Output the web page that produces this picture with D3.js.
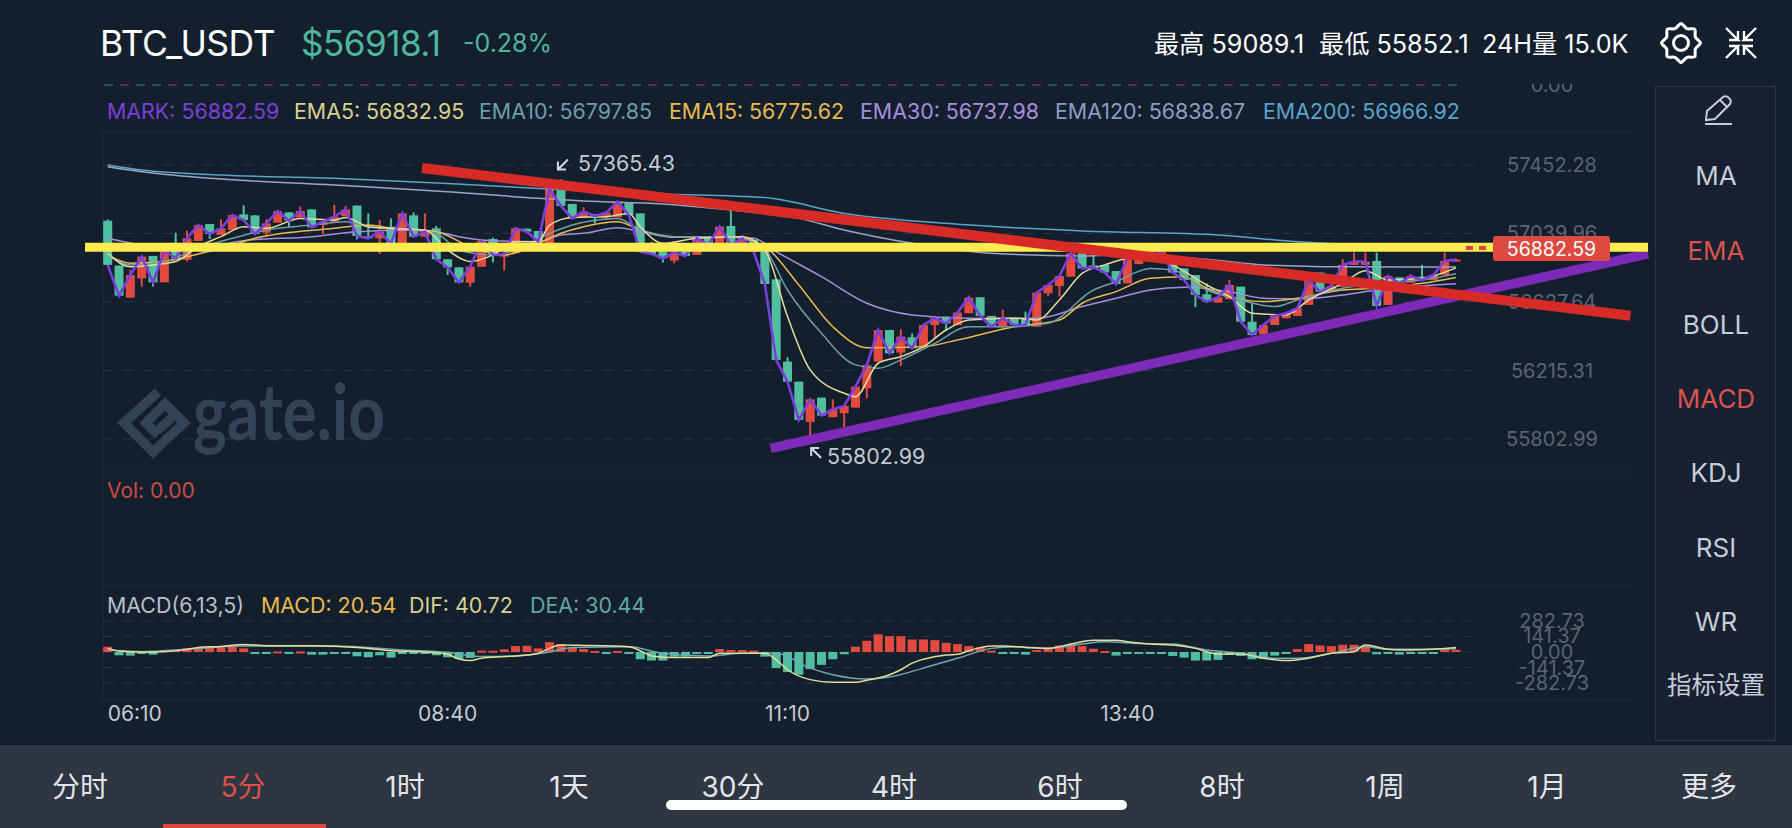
<!DOCTYPE html>
<html><head><meta charset="utf-8">
<script src="https://cdnjs.cloudflare.com/ajax/libs/d3/7.8.5/d3.min.js"></script>
<style>html,body{margin:0;padding:0;background:#141f2e;overflow:hidden}svg{display:block}text{font-family:Inter,"Noto Sans CJK SC",sans-serif}</style>
</head><body><svg id="c" width="1792" height="828"></svg>
<script>
const opens=[57117,56847,56654,56770,56905,56746,56971,56881,56995,57097,57031,57061,57155,57149,57045,57105,57167,57137,57185,57091,57111,57145,57208,57021,57011,57081,56971,57149,57021,57071,56885,56836,56744,56840,57007,56901,56921,57069,57055,56971,57306,57218,57137,57155,57137,57137,57226,57161,56971,56931,56877,56931,56911,57017,56981,57085,56977,57001,56931,56764,56269,56148,55906,56052,55934,55958,55992,56108,56269,56459,56323,56415,56359,56489,56540,56489,56560,56656,56544,56475,56530,56530,56479,56680,56724,56780,56921,56847,56851,56814,56740,56856,56871,56865,56861,56830,56790,56674,56624,56644,56720,56509,56433,56489,56530,56544,56610,56805,56690,56720,56851,56851,56875,56610,56776,56744,56780,56760,56790,56871];
const highs=[57125,56847,56821,56901,56905,56937,57045,57057,57091,57097,57125,57151,57210,57149,57125,57181,57167,57202,57185,57111,57212,57206,57208,57161,57121,57131,57161,57167,57161,57085,56885,56836,56840,56995,57015,56917,57071,57069,57055,57306,57365.43,57218,57198,57155,57171,57232,57226,57161,56991,56931,56925,56931,57011,57017,57081,57181,57031,57001,56931,56764,56295,56148,56042,56052,56042,56002,56118,56249,56459,56459,56463,56439,56489,56544,56540,56564,56666,56656,56544,56580,56530,56570,56684,56730,56784,56921,56921,56921,56851,56814,56891,56941,56941,56931,56861,56830,56790,56740,56656,56760,56720,56620,56489,56544,56560,56590,56760,56805,56724,56885,56925,56925,56925,56784,56776,56796,56851,56790,56925,56890];
const lows=[56851,56666,56654,56720,56720,56746,56891,56871,56995,57007,57031,57061,57121,57037,57029,57105,57081,57137,57077,57037,57111,57145,57005,57011,56917,56981,56971,57021,57021,56885,56790,56746,56720,56840,56867,56817,56921,57051,56991,56971,57206,57131,57137,57101,57121,57137,57151,56931,56917,56865,56861,56905,56911,56971,56981,56971,56977,56931,56736,56279,56148,55918,55802.99,55944,55934,55874,55992,56048,56269,56319,56243,56349,56359,56409,56455,56489,56560,56544,56479,56475,56489,56489,56479,56664,56660,56780,56830,56836,56805,56736,56740,56856,56871,56865,56805,56760,56596,56624,56624,56644,56509,56429,56433,56489,56530,56544,56610,56690,56690,56720,56851,56851,56604,56610,56740,56744,56760,56760,56790,56871];
const closes=[56851,56666,56790,56901,56746,56937,56891,57011,57091,57037,57071,57151,57121,57037,57101,57175,57117,57175,57077,57111,57141,57185,57025,57011,57051,56981,57161,57021,57051,56885,56836,56746,56840,56995,56911,56917,57071,57051,56991,57306,57206,57131,57171,57145,57165,57232,57151,56931,56917,56891,56925,56905,57011,56971,57081,56971,57011,56931,56736,56279,56148,55918,56042,55944,55982,56002,56118,56249,56459,56319,56419,56349,56489,56530,56499,56564,56654,56544,56479,56530,56489,56489,56684,56730,56784,56921,56830,56836,56805,56736,56891,56941,56941,56931,56805,56760,56670,56630,56656,56730,56509,56429,56489,56544,56560,56590,56760,56690,56724,56851,56871,56871,56604,56784,56740,56784,56760,56790,56875,56882.59];

const ema5Idx=[0,2,4,6,8,10,12,14,17,20,21,23,25,28,30,32,34,36,38,39,41,44,46,47,49,52,56,58,60,62,65,66,68,70,72,74,76,80,82,84,86,88,92,94,97,99,101,104,106,109,111,113,116,119];
const ema5=[56921,56840,56851,56871,56961,57021,57081,57071,57131,57121,57137,57081,57071,57061,56941,56871,56911,56991,56991,57091,57137,57141,57161,57081,56981,57011,57021,56941,56540,56219,56078,56058,56259,56299,56359,56459,56520,56530,56520,56640,56800,56851,56911,56851,56730,56660,56560,56550,56640,56740,56816,56760,56770,56832.95];
const ema10Idx=[0,2,5,8,11,14,18,21,23,27,29,31,34,37,39,41,45,47,50,55,58,60,63,66,68,70,73,76,80,83,87,89,92,94,97,100,103,105,109,112,116,119];
const ema10=[56911,56851,56871,56951,57011,57061,57091,57111,57081,57061,57041,56941,56911,56971,57041,57091,57131,57061,57021,57021,56941,56700,56439,56249,56229,56279,56379,56479,56479,56499,56700,56750,56830,56820,56700,56640,56600,56640,56710,56740,56760,56797.85];
const ema15Idx=[0,2,5,8,11,13,20,23,25,29,32,35,38,40,42,45,47,50,55,58,61,64,67,72,75,80,84,86,89,92,95,97,99,102,105,109,112,116,119];
const ema15=[56911,56861,56871,56917,56971,57011,57071,57091,57071,57051,56961,56911,56981,57041,57081,57111,57061,57021,57021,56961,56730,56479,56353,56359,56399,56479,56519,56620,56690,56770,56780,56710,56660,56630,56650,56700,56710,56740,56775.62];
const ema30Idx=[0,3,5,8,12,18,22,27,29,31,34,38,40,42,45,47,50,54,57,59,63,67,71,76,82,86,89,92,95,99,102,105,109,112,119];
const ema30=[57011,56971,56957,56957,56997,57021,57051,57061,57051,57021,56997,56991,57031,57041,57075,57051,57017,57017,57011,56931,56780,56620,56550,56530,56530,56600,56650,56700,56716,56690,56650,56646,56670,56700,56737.98];
const ema120Idx=[0,3,10,20,30,38,42,49,55,61,65,71,78,86,89,97,102,109,119];
const ema120=[57442,57412,57368,57332,57292,57252,57236,57218,57181,57131,57061,56981,56921,56905,56911,56885,56851,56840,56838.67];
const ema200Idx=[0,3,10,20,30,38,42,49,58,65,74,86,98,105,112,119];
const ema200=[57452,57422,57392,57372,57341,57311,57296,57278,57256,57161,57101,57055,57031,56991,56971,56966.92];

const macdBars=[48,-30,-33,-6,-24,18,18,36,42,42,42,48,33,-5,-5,5,-5,5,-24,-24,-18,-6,-39,-48,-30,-51,-3,-18,-4,-30,-48,-63,-54,12,12,24,54,57,33,90,72,42,27,9,-5,9,-5,-66,-78,-78,-42,-42,-6,-6,27,18,18,12,-42,-147,-183,-207,-156,-117,-66,-21,48,102,162,144,144,114,114,108,84,72,54,42,12,-6,-6,-24,18,42,60,72,54,30,9,-33,-18,-6,-6,-9,-36,-51,-78,-78,-72,-27,-36,-66,-63,-33,-6,27,72,60,54,66,66,60,-21,-6,-24,-9,-9,-6,24,20.54];
const difIdx=[0,1,3,5,7,8,10,12,14,18,22,25,28,30,31,32,33,35,37,38,39,40,42,46,47,48,50,53,54,58,59,60,62,64,66,67,69,70,71,72,74,75,76,78,79,81,83,85,87,89,90,92,94,96,98,100,102,104,106,108,110,111,113,114,118,119];
const dif=[33,9,0,3,24,42,51,69,57,57,42,12,0,-21,-63,-78,-57,-42,-27,-12,33,63,60,48,12,-36,-51,-51,-12,-12,-72,-162,-252,-276,-276,-258,-207,-162,-102,-66,-27,-21,12,54,54,42,33,72,108,108,93,72,63,33,-18,-18,-57,-78,-57,-12,3,63,24,18,33,40.72];
const deaIdx=[0,3,8,12,20,26,30,33,36,39,41,46,49,53,56,59,62,64,67,69,72,75,78,80,83,86,88,91,94,97,100,103,105,108,111,113,119];
const dea=[18,3,33,54,54,18,-3,-42,-36,0,42,48,-12,-36,-12,-12,-147,-207,-246,-228,-147,-57,33,48,33,72,93,78,72,18,-12,-57,-57,-12,48,24,30.44];

const priceTicks=[57452.28,57039.96,56627.64,56215.31,55802.99];
const macdTicks=[282.73,141.37,0,-141.37,-282.73];
const timeIdx=[0,30,60,90];
const timeLabels=["06:10","08:40","11:10","13:40"];
const sideItems=["MA","EMA","BOLL","MACD","KDJ","RSI","WR","指标设置"];
const sideActive=["EMA","MACD"];
const tabs=["分时","5分","1时","1天","30分","4时","6时","8时","1周","1月","更多"];
const legendNames=["MARK: 56882.59","EMA5: 56832.95","EMA10: 56797.85","EMA15: 56775.62","EMA30: 56737.98","EMA120: 56838.67","EMA200: 56966.92"];
const legendColors=["#7a3fd6","#d8d08f","#6d9ea8","#e8bb4f","#a58fdc","#8d9dc2","#5aa3cb"];
const macdLegend=["MACD(6,13,5)","MACD: 20.54","DIF: 40.72","DEA: 30.44"];
const macdLegendColors=["#b9bec8","#e8bb4f","#d8d08f","#5fa8a0"];
// hand-drawn annotation lines: candle index and price at both ends
const yellowIdx=[-2,135.95],yellowPrice=[56957,56957];
const redIdx=[27.74,134.4],redPrice=[57434,56545];
const purpleIdx=[58.5,135.95],purplePrice=[55747,56917];

const GREEN="#50bfa0",RED="#e2493f",BG="#141f2e";
const svg=d3.select("#c");
const x=d3.scaleLinear().domain([0,119]).range([107.7,1456]);
const y=d3.scaleLinear().domain([55802.99,57452.28]).range([439,165]);
const my=d3.scaleLinear().domain([-282.73,282.73]).range([683,621]);
const T=(s,px,py,o={})=>svg.append("text").attr("x",px).attr("y",py).text(s)
  .attr("font-size",o.size||20).attr("fill",o.fill||"#c4c9d2").attr("text-anchor",o.anchor||"start")
  .attr("font-weight",o.weight||400).attr("dominant-baseline","central");
svg.append("rect").attr("width",1792).attr("height",828).attr("fill",BG);

// frame
const frameY=[132,472,586,700];
svg.selectAll(".f").data(frameY).join("line").attr("x1",103).attr("x2",1632).attr("y1",d=>d).attr("y2",d=>d).attr("stroke","#1f2a3b");
svg.append("line").attr("x1",103).attr("x2",103).attr("y1",132).attr("y2",700).attr("stroke","#1f2a3b");

// top clipped panel
const topDash=d3.range(104,1456,16);
svg.selectAll(".td").data(topDash).join("line").attr("x1",d=>d).attr("x2",d=>d+9).attr("y1",85).attr("y2",85)
  .attr("stroke",(d,i)=>i%3==1?"#a33c4a":"#3f8a86");
T("0.00",1552,85,{size:20,fill:"#5a6372",anchor:"middle"});
svg.append("rect").attr("x",1500).attr("y",0).attr("width",120).attr("height",84).attr("fill",BG);

// legend
const legendX=[107,294,479,669,860,1055,1263];
legendNames.forEach((s,i)=>T(s,legendX[i],111,{size:21.4,fill:legendColors[i]}));

// grids
svg.selectAll(".g").data(priceTicks).join("line").attr("x1",103).attr("x2",1478).attr("y1",d=>y(d)).attr("y2",d=>y(d))
  .attr("stroke","#2a3444").attr("stroke-dasharray","10 10");
svg.selectAll(".g2").data(macdTicks).join("line").attr("x1",103).attr("x2",1470).attr("y1",d=>my(d)).attr("y2",d=>my(d))
  .attr("stroke","#2a3444").attr("stroke-dasharray","10 10");
priceTicks.forEach(p=>T(p.toFixed(2),1552,y(p),{size:20,fill:"#5a6372",anchor:"middle"}));
macdTicks.forEach(p=>T(p.toFixed(2),1552,my(p),{size:20,fill:"#5a6372",anchor:"middle"}));

// watermark
const wm=svg.append("g").attr("fill","none").attr("stroke","#344255").attr("stroke-width",9.5).attr("stroke-linejoin","miter");
wm.append("path").attr("d",d3.line()([[158,392],[124,423],[153,452],[184,423],[165,404],[146,423],[158,435]]));
wm.append("path").attr("d",d3.line()([[158,430],[174,416]]));
T("gate.io",193,440,{size:78,fill:"#344255",weight:700}).attr("dominant-baseline","auto").style("font-family","Lato")
  .attr("textLength",192).attr("lengthAdjust","spacingAndGlyphs");

// candles
const idx=d3.range(opens.length);
svg.append("g").selectAll("line").data(idx).join("line").attr("x1",x).attr("x2",x)
  .attr("y1",i=>y(highs[i])).attr("y2",i=>y(lows[i])).attr("stroke-width",2)
  .attr("stroke",i=>closes[i]>=opens[i]?RED:GREEN);
svg.append("g").selectAll("rect").data(idx).join("rect").attr("x",i=>x(i)-4.5).attr("width",9)
  .attr("y",i=>y(Math.max(opens[i],closes[i])))
  .attr("height",i=>Math.max(1.5,Math.abs(y(opens[i])-y(closes[i]))))
  .attr("fill",i=>closes[i]>=opens[i]?RED:GREEN);

// EMA lines
const ln=(xs,vs,sc,col,w,cur)=>svg.append("path")
  .attr("d",d3.line().x((d,i)=>x(xs[i])).y(d=>sc(d)).curve(cur||d3.curveMonotoneX)(vs))
  .attr("fill","none").attr("stroke",col).attr("stroke-width",w);
ln(ema200Idx,ema200,y,"#5aa3cb",1.5);
ln(ema120Idx,ema120,y,"#9aa6c8",1.5);
ln(ema30Idx,ema30,y,"#a58fdc",1.5);
ln(ema15Idx,ema15,y,"#e8bb4f",1.5);
ln(ema10Idx,ema10,y,"#6d9ea8",1.5);
ln(ema5Idx,ema5,y,"#e4dd9a",1.5);
ln(idx,closes,y,"#7a3fdc",2.6,d3.curveLinear);

// hi / lo labels
const hiI=highs.indexOf(d3.max(highs)),loI=lows.indexOf(d3.min(lows));
const arrow=(px,py,dx,dy)=>svg.append("path").attr("d",`M${px+dx*10} ${py+dy*10}L${px} ${py}M${px} ${py+dy*8}L${px} ${py}L${px+dx*8} ${py}`)
  .attr("fill","none").attr("stroke","#d5d8de").attr("stroke-width",2);
arrow(x(hiI)+2-5,y(highs[hiI])-10,1,-1);
T(d3.format(".2f")(highs[hiI]),578,y(highs[hiI])-16,{size:21.4,fill:"#c4c9d2"});
arrow(x(loI)+1,y(lows[loI])+9,1,1);
T(d3.format(".2f")(lows[loI]),827,y(lows[loI])+17,{size:21.4,fill:"#c4c9d2"});

T("Vol: 0.00",107,490,{size:21,fill:"#cc4a45"});
const macdLegX=[107,261,409,530];
macdLegend.forEach((s,i)=>T(s,macdLegX[i],605,{size:21.4,fill:macdLegendColors[i]}));

// MACD
svg.append("g").selectAll("rect").data(macdBars).join("rect")
  .attr("x",(d,i)=>x(i)-4.5).attr("width",9)
  .attr("y",d=>Math.min(my(d),my(0)))
  .attr("height",d=>Math.max(2,Math.abs(my(d)-my(0))))
  .attr("fill",d=>d>=0?RED:GREEN);
ln(deaIdx,dea,my,"#6fa9b5",1.5);
ln(difIdx,dif,my,"#e4dd9a",1.5);

// x labels
timeIdx.forEach((v,i)=>T(timeLabels[i],x(v),713,{size:21,fill:"#c4c9d2",anchor:i==0?"start":"middle"}));

// annotation lines
const ann=(xs,ps,col,w)=>svg.append("line").attr("x1",x(xs[0])).attr("x2",x(xs[1])).attr("y1",y(ps[0])).attr("y2",y(ps[1])).attr("stroke",col).attr("stroke-width",w);
ann(purpleIdx,purplePrice,"#7d2ab8",9.5);
ann(yellowIdx,yellowPrice,"#fdeb50",9);
ann(redIdx,redPrice,"#d92b26",10);

// last price tag
svg.selectAll(".pd").data([1466,1479]).join("rect").attr("x",d=>d).attr("y",246).attr("width",7).attr("height",4).attr("fill","#d8443c");
svg.append("rect").attr("x",1493).attr("y",236).attr("width",117).attr("height",25).attr("rx",3).attr("fill","#dc4a42");
T("56882.59",1551.5,248.5,{size:19.5,fill:"#fff",anchor:"middle"});

// right panel
svg.append("rect").attr("x",1655.5).attr("y",86.5).attr("width",120).attr("height",654).attr("fill","#172132").attr("stroke","#2a3546");
const sideY=[175,250,324,398,472,547,621,685];
sideItems.forEach((s,i)=>T(s,1716,sideY[i],{size:i==7?24.5:26,fill:sideActive.includes(s)?"#d9534c":"#c6ccd8",anchor:"middle"}));
svg.append("path").attr("d","M1705 124h27M1706 120l1-9 16-14q3-2 6 1t1 6l-15 15zM1720 100l7 7").attr("fill","none").attr("stroke","#c6ccd8").attr("stroke-width",2);

// bottom
svg.append("rect").attr("y",745).attr("width",1792).attr("height",83).attr("fill","#2e3642");
const tabX=[80,243,405,569,733,894,1060,1222,1385,1547,1709];
tabs.forEach((s,i)=>T(s,tabX[i],787,{size:28,fill:i==1?"#de5148":"#e3e5ea",anchor:"middle"}));
svg.append("rect").attr("x",163).attr("y",824).attr("width",163).attr("height",4).attr("fill","#d9473f");
svg.append("rect").attr("x",666).attr("y",800).attr("width",461).attr("height",10).attr("rx",5).attr("fill","#fff");

// header
T("BTC_USDT",100,43,{size:35.5,fill:"#fff"}).attr("letter-spacing",-.5);
T("$56918.1",301,43,{size:35,fill:"#4fb79b"}).attr("letter-spacing",-.5);
T("-0.28%",463,43,{size:25,fill:"#4fb79b"});
T("最高 59089.1",1154,44,{size:25.2,fill:"#fff"});
T("最低 55852.1",1319,44,{size:25.2,fill:"#fff"});
T("24H量 15.0K",1482,44,{size:25.2,fill:"#fff"});
const gear=svg.append("g").attr("transform","translate(1681,43)").attr("fill","none").attr("stroke","#fff").attr("stroke-width",3);
gear.append("circle").attr("r",7.5);
gear.append("path").attr("d",d3.lineRadial().curve(d3.curveCardinalClosed.tension(.3))(d3.range(16).map(k=>[k*Math.PI/8,k%2?15.5:19.5])));
svg.append("path").attr("d","M1726 28l12 12h-9M1738 40v-9M1756 28l-12 12h9M1744 40v-9M1726 58l12-12h-9M1738 46v9M1756 58l-12-12h9M1744 46v9")
  .attr("fill","none").attr("stroke","#fff").attr("stroke-width",2.4);
</script></body></html>
